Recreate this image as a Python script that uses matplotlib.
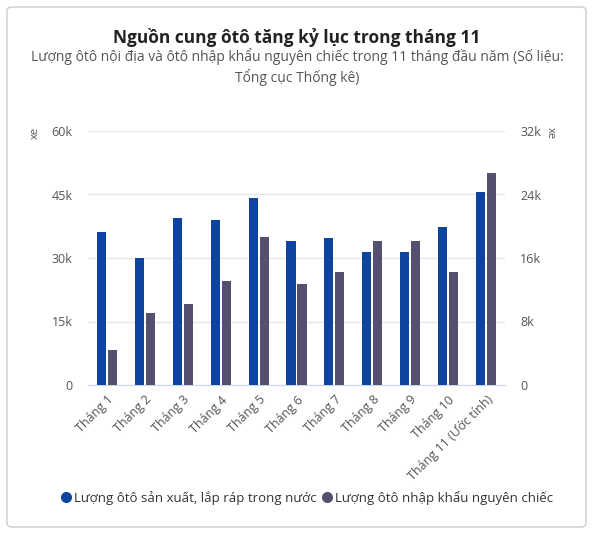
import matplotlib.pyplot as plt
from matplotlib.patches import FancyBboxPatch
from matplotlib.lines import Line2D
import numpy as np

plt.rcParams['font.family'] = ['Open Sans', 'DejaVu Sans']

months = ["Tháng 1", "Tháng 2", "Tháng 3", "Tháng 4", "Tháng 5", "Tháng 6",
          "Tháng 7", "Tháng 8", "Tháng 9", "Tháng 10", "Tháng 11 (Ước tính)"]
domestic = [36200, 30000, 39500, 38900, 44100, 33900, 34800, 31500, 31500, 37400, 45500]
imported = [4430, 9070, 10200, 13100, 18700, 12700, 14200, 18100, 18100, 14200, 26700]
left_ticks = [0, 15000, 30000, 45000, 60000]
left_labels = ["0", "15k", "30k", "45k", "60k"]
right_ticks = [0, 8000, 16000, 24000, 32000]
right_labels = ["0", "8k", "16k", "24k", "32k"]

blue = '#0c44a0'
purple = '#545070'

W, H = 612, 534
fig = plt.figure(figsize=(W / 100, H / 100), dpi=100)

# card border
card = FancyBboxPatch((7 / W, 7 / H), 579 / W, 520 / H,
                      boxstyle="round,pad=0,rounding_size=0.008",
                      transform=fig.transFigure, facecolor='none',
                      edgecolor='#cccccc', linewidth=1)
fig.patches.append(card)

cx = 297 / W
fig.text(cx, 1 - 37 / H, "Nguồn cung ôtô tăng kỷ lục trong tháng 11",
         ha='center', va='center', fontsize=12.5, fontweight='bold', color='#222222')
fig.text(cx, 1 - 67 / H,
         "Lượng ôtô nội địa và ôtô nhập khẩu nguyên chiếc trong 11 tháng đầu năm (Số liệu:\nTổng cục Thống kê)",
         ha='center', va='center', fontsize=10, color='#555555', linespacing=1.35)

ax = fig.add_axes([88 / W, 1 - 385 / H, 417 / W, 254 / H])
ax2 = ax.twinx()

x = np.arange(len(months))
w = 0.24
ax.bar(x - 0.145, domestic, w, color=blue, zorder=3)
ax2.bar(x + 0.145, imported, w, color=purple, zorder=3)

ax.set_xlim(-0.5, len(months) - 0.5)
ax.set_ylim(0, 60000)
ax2.set_ylim(0, 32000)
ax.set_yticks(left_ticks)
ax.set_yticklabels(left_labels)
ax2.set_yticks(right_ticks)
ax2.set_yticklabels(right_labels)
ax.grid(axis='y', color='#e6e6e6', linewidth=1, zorder=0)
ax.set_axisbelow(True)

ax.set_xticks(x)
ax.set_xticklabels(months, rotation=45, ha='right', rotation_mode='anchor',
                   fontsize=9, color='#333333')

for a in (ax, ax2):
    for s in a.spines.values():
        s.set_visible(False)
    a.tick_params(length=0, labelsize=9, labelcolor='#555555')
ax.spines['bottom'].set_visible(True)
ax.spines['bottom'].set_color('#ccd6eb')
ax.tick_params(axis='x', pad=6)
ax.tick_params(axis='y', pad=11)
ax2.tick_params(axis='y', pad=11)

fig.text(35 / W, 1 - 133 / H, "xe", rotation=90, ha='center', va='center',
         fontsize=8, color='#555555')
fig.text(550 / W, 1 - 133 / H, "xe", rotation=270, ha='center', va='center',
         fontsize=8, color='#555555')

handles = [Line2D([0], [0], marker='o', color='w', markerfacecolor=blue, markersize=9),
           Line2D([0], [0], marker='o', color='w', markerfacecolor=purple, markersize=9)]
fig.legend(handles, ["Lượng ôtô sản xuất, lắp ráp trong nước", "Lượng ôtô nhập khẩu nguyên chiếc"],
           loc='center', bbox_to_anchor=(0.5, 1 - 498 / H), ncol=2, frameon=False,
           fontsize=9.5, labelcolor='#333333', handletextpad=0.1, columnspacing=0.3,
           handlelength=1)

fig.savefig('out.png', dpi=100)
